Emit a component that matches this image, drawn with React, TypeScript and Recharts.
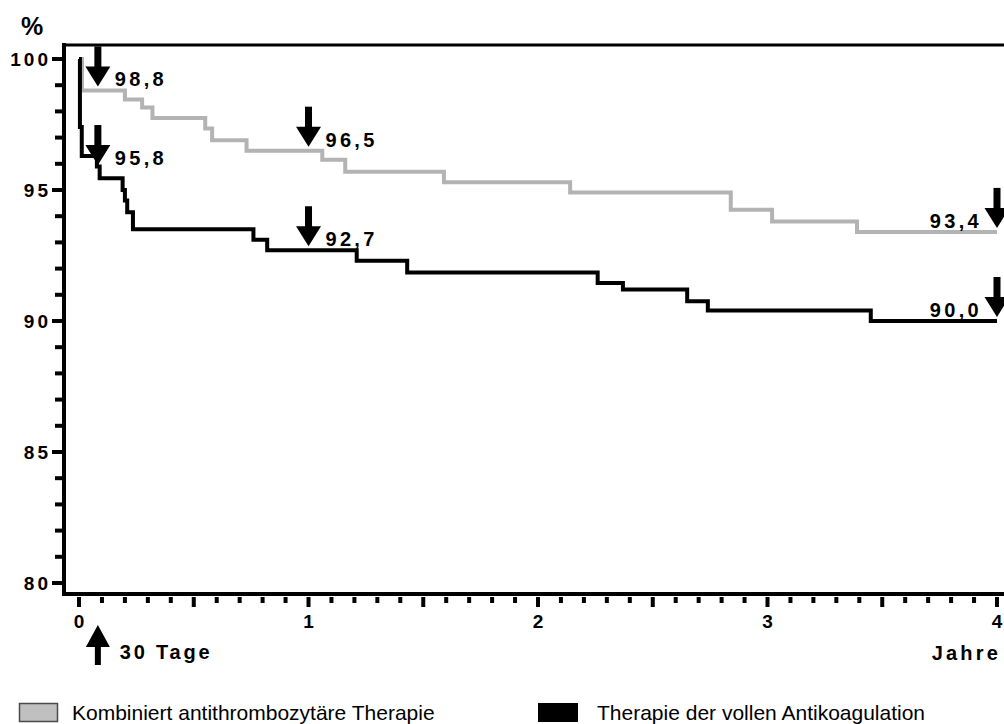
import React from "react";
import { LineChart, Line, XAxis, YAxis, ReferenceDot, ReferenceLine } from "recharts";

// Kaplan-Meier style step curves, time in years, value in %
const greyT = [0, 0.013, 0.2, 0.275, 0.32, 0.55, 0.58, 0.73, 1.06, 1.16, 1.59, 2.14, 2.84, 3.02, 3.39, 4.0];
const greyV = [100, 98.8, 98.45, 98.15, 97.75, 97.35, 96.9, 96.5, 96.15, 95.7, 95.3, 94.9, 94.25, 93.8, 93.4, 93.4];

const blackT = [0, 0.004, 0.012, 0.078, 0.09, 0.19, 0.2, 0.21, 0.235, 0.76, 0.82, 1.21, 1.43, 2.26, 2.37, 2.65, 2.74, 3.45, 4.0];
const blackV = [100, 97.4, 96.3, 95.9, 95.45, 95.0, 94.6, 94.15, 93.5, 93.1, 92.7, 92.3, 91.85, 91.45, 91.2, 90.75, 90.4, 90.0, 90.0];

// arrow annotations
const noteT = [30 / 365, 30 / 365, 1, 1, 4, 4];
const noteV = [98.8, 95.8, 96.5, 92.7, 93.4, 90.0];
const noteLabels = ["98,8", "95,8", "96,5", "92,7", "93,4", "90,0"];

const yearLabels = [0, 1, 2, 3, 4];
const xTicks = Array.from({ length: 41 }, (_, i) => i / 10);
const yTicks = Array.from({ length: 21 }, (_, i) => 80 + i);
const yLabelTicks = [80, 85, 90, 95, 100];

const seriesNames = ["Kombiniert antithrombozytäre Therapie", "Therapie der vollen Antikoagulation"];

const X_DOMAIN: [number, number] = [-0.0654, 4.0305];
const Y_DOMAIN: [number, number] = [79.58, 100.534];

const FONT = "'Liberation Sans', Arial, sans-serif";

const greyData = greyT.map((t, i) => ({ t, v: greyV[i] }));
const blackData = blackT.map((t, i) => ({ t, v: blackV[i] }));

function XTick(props: any) {
  const { x, y, payload } = props;
  const v = payload.value;
  const major = Math.abs(v * 2 - Math.round(v * 2)) < 1e-6;
  const isYear = yearLabels.some((k) => Math.abs(k - v) < 1e-6);
  return (
    <g>
      <rect x={x - 2} y={y + 3} width={4} height={major ? 10 : 6} fill="#000" />
      {isYear && (
        <text x={x} y={y + 34} textAnchor="middle" fontFamily={FONT} fontWeight="bold" fontSize={19} fill="#000">
          {Math.round(v)}
        </text>
      )}
    </g>
  );
}

function YTick(props: any) {
  const { x, y, payload } = props;
  const v = payload.value;
  const major = yLabelTicks.includes(v);
  return (
    <g>
      <rect x={major ? x - 12 : x - 9} y={y - 2} width={major ? 10 : 7} height={4} fill="#000" />
      {major && (
        <text x={x - 13} y={y + 7} textAnchor="end" fontFamily={FONT} fontWeight="bold" fontSize={19} letterSpacing={3} fill="#000">
          {v}
        </text>
      )}
    </g>
  );
}

function ArrowNote({ cx, cy, label, left }: { cx: number; cy: number; label: string; left: boolean }) {
  const tip = cy - 4;
  return (
    <g>
      <rect x={cx - 3.5} y={tip - 40} width={7} height={21} fill="#000" />
      <polygon points={`${cx - 12.5},${tip - 20} ${cx + 12.5},${tip - 20} ${cx},${tip}`} fill="#000" />
      <text
        x={left ? cx - 15 : cx + 17}
        y={tip}
        textAnchor={left ? "end" : "start"}
        fontFamily={FONT}
        fontWeight="bold"
        fontSize={20}
        letterSpacing={3.3}
        fill="#000"
      >
        {label}
      </text>
    </g>
  );
}

function DaysNote({ cx, cy }: { cx: number; cy: number }) {
  return (
    <g>
      <polygon points={`${cx - 12},${cy + 53} ${cx + 12},${cy + 53} ${cx},${cy + 31}`} fill="#000" />
      <rect x={cx - 3} y={cy + 52} width={6} height={19} fill="#000" />
      <text x={cx + 22} y={cy + 65} fontFamily={FONT} fontWeight="bold" fontSize={20} letterSpacing={2.8} fill="#000">
        30 Tage
      </text>
    </g>
  );
}

export default function App() {
  return (
    <div style={{ position: "absolute", left: 0, top: 0, width: 1004, height: 724, background: "#fff" }}>
      <LineChart width={1004} height={700} margin={{ top: 45, right: 0, bottom: 0, left: 0 }}>
        <XAxis
          type="number"
          dataKey="t"
          domain={X_DOMAIN}
          allowDataOverflow
          ticks={xTicks}
          interval={0}
          tick={<XTick />}
          tickLine={false}
          tickSize={0}
          tickMargin={0}
          height={106}
          axisLine={{ stroke: "#000", strokeWidth: 4, strokeLinecap: "square" }}
          label={(p: any) => {
            const vb = p.viewBox;
            return (
              <text x={vb.x + vb.width - 3} y={vb.y + 66} textAnchor="end" fontFamily={FONT} fontWeight="bold" fontSize={20} letterSpacing={3.2} fill="#000">
                Jahre
              </text>
            );
          }}
        />
        <YAxis
          type="number"
          domain={Y_DOMAIN}
          allowDataOverflow
          ticks={yTicks}
          interval={0}
          tick={<YTick />}
          tickLine={false}
          tickSize={0}
          tickMargin={0}
          width={64}
          axisLine={{ stroke: "#000", strokeWidth: 4, strokeLinecap: "square" }}
          label={(p: any) => {
            const vb = p.viewBox;
            return (
              <text x={vb.x + 21} y={vb.y - 10} fontFamily={FONT} fontWeight="bold" fontSize={25} fill="#000">
                %
              </text>
            );
          }}
        />
        <ReferenceLine y={Y_DOMAIN[1]} stroke="#000" strokeWidth={3} ifOverflow="visible" />
        <Line
          data={greyData}
          dataKey="v"
          type="stepAfter"
          stroke="#b3b3b3"
          strokeWidth={4}
          dot={false}
          activeDot={false}
          isAnimationActive={false}
          name={seriesNames[0]}
        />
        <Line
          data={blackData}
          dataKey="v"
          type="stepAfter"
          stroke="#000"
          strokeWidth={4}
          dot={false}
          activeDot={false}
          isAnimationActive={false}
          name={seriesNames[1]}
        />
        {noteT.map((t, i) => (
          <ReferenceDot
            key={i}
            x={t}
            y={noteV[i]}
            r={1}
            ifOverflow="visible"
            shape={(p: any) => <ArrowNote cx={p.cx} cy={p.cy} label={noteLabels[i]} left={t >= 4} />}
          />
        ))}
        <ReferenceDot x={30 / 365} y={Y_DOMAIN[0]} r={1} ifOverflow="visible" shape={(p: any) => <DaysNote cx={p.cx} cy={p.cy} />} />
      </LineChart>
      <svg width={1004} height={24} style={{ position: "absolute", left: 0, top: 700 }}>
        <rect x={19.5} y={3.5} width={38} height={18} fill="#c0c0c0" stroke="#4a4a4a" strokeWidth={1.5} />
        <text x={72} y={20} fontFamily={FONT} fontSize={21} fill="#000">
          {seriesNames[0]}
        </text>
        <rect x={538} y={3} width={40} height={19} fill="#000" />
        <text x={597} y={20} fontFamily={FONT} fontSize={21} fill="#000">
          {seriesNames[1]}
        </text>
      </svg>
    </div>
  );
}
